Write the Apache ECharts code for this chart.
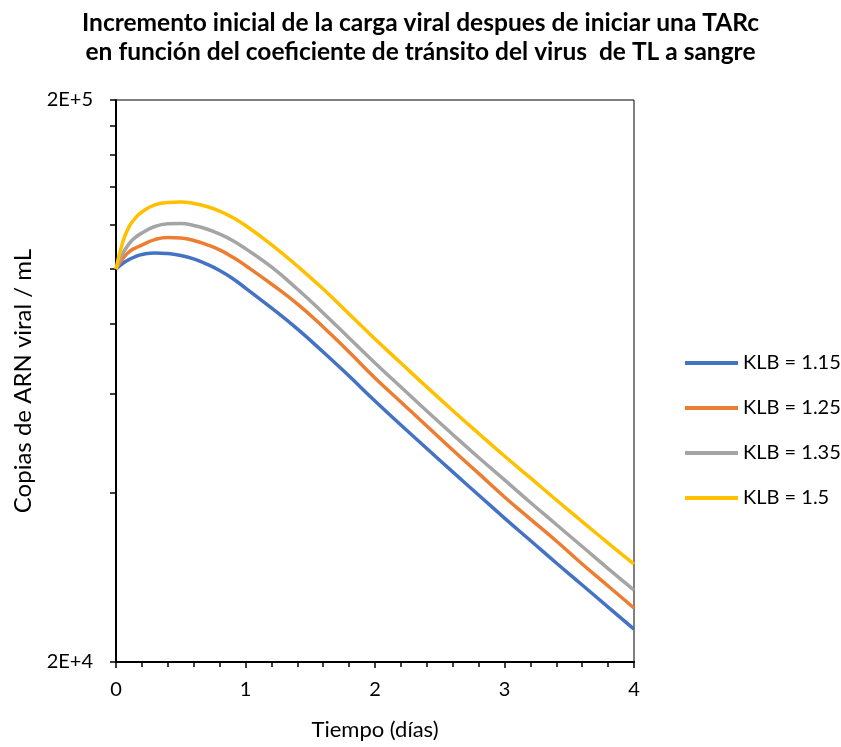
<!DOCTYPE html>
<html>
<head>
<meta charset="utf-8">
<script src="https://cdn.jsdelivr.net/npm/echarts@6/dist/echarts.min.js"></script>
<style>html,body{margin:0;padding:0;background:#fff}#c{width:841px;height:747px}</style>
</head>
<body>
<div id="c"></div>
<script>
const titleLines = ['Incremento inicial de la carga viral despues de iniciar una TARc',
                    'en función del coeficiente de tránsito del virus  de TL a sangre'];
const xName = 'Tiempo (días)';
const yName = 'Copias de ARN viral / mL';
const tiempo = [0, 0.05, 0.1, 0.15, 0.2, 0.3, 0.4, 0.5, 0.6, 0.7, 0.8, 0.9, 1.0, 1.2, 1.4, 1.6, 1.8, 2.0, 2.2, 2.4, 2.6, 2.8, 3.0, 3.2, 3.4, 3.6, 3.8, 4.0];
const seriesNames = ['KLB = 1.15', 'KLB = 1.25', 'KLB = 1.35', 'KLB = 1.5'];
const klb115 = [100000, 102300, 104000, 105300, 106200, 106900, 106600, 105800, 104300, 102100, 99460, 96260, 92570, 85320, 78280, 71220, 64540, 58260, 52820, 47970, 43580, 39650, 36070, 32900, 30000, 27420, 25050, 22890];
const klb125 = [100000, 104300, 107300, 109100, 110400, 112900, 113900, 113600, 112500, 110600, 108200, 105100, 101500, 94110, 86730, 78920, 71220, 64020, 58020, 52610, 47670, 43310, 39320, 35920, 32830, 29880, 27310, 24950];
const klb135 = [100000, 106400, 110900, 113900, 116000, 119100, 120400, 120600, 119600, 117900, 115500, 112500, 108800, 100900, 92190, 83590, 75430, 68080, 61700, 55920, 50800, 46230, 42170, 38450, 35130, 32100, 29330, 26860];
const klb150 = [100000, 111300, 118900, 123300, 126400, 130100, 131400, 131700, 130900, 129300, 126900, 123600, 119600, 110600, 101300, 92190, 83250, 75130, 68080, 61700, 56040, 51010, 46510, 42520, 38840, 35560, 32560, 29880];
const yLabelValues = [20000, 200000];
const yTickValues = [20000, 40000, 60000, 80000, 100000, 120000, 140000, 160000, 180000, 200000];
const colors = ['#4472C4', '#ED7D31', '#A5A5A5', '#FFC000'];

const allSeries = [klb115, klb125, klb135, klb150];
const font = 'Lato, "Open Sans", sans-serif';
const chart = echarts.init(document.getElementById('c'));
chart.setOption({
  animation: false,
  color: colors,
  textStyle: {fontFamily: font, color: '#000'},
  title: {
    text: titleLines.join('\n'),
    left: 'center', top: 4,
    textStyle: {fontFamily: font, fontWeight: 'bold', fontSize: 24.5, lineHeight: 29, color: '#000'}
  },
  grid: {left: 116, top: 100, width: 518, height: 562, show: true, borderColor: '#000', borderWidth: 1,
         backgroundColor: 'transparent', outerBoundsMode: 'none', containLabel: false},
  legend: {
    orient: 'vertical', left: 680, top: 347,
    itemWidth: 53, itemHeight: 4, itemGap: 23, icon: 'rect',
    textStyle: {fontFamily: font, fontSize: 20, lineHeight: 22, color: '#000'},
    data: seriesNames
  },
  xAxis: {
    type: 'value', min: 0, max: 4, interval: 1,
    name: xName, nameLocation: 'middle', nameGap: 57,
    nameTextStyle: {fontFamily: font, fontSize: 22, color: '#000'},
    axisLine: {lineStyle: {color: '#000', width: 2}},
    axisTick: {show: true, length: 6, lineStyle: {color: '#000', width: 1.5}},
    minorTick: {show: true, splitNumber: 5, length: 5, lineStyle: {color: '#000', width: 1.5}},
    axisLabel: {fontFamily: font, fontSize: 20, color: '#000', margin: 18},
    splitLine: {show: false}
  },
  yAxis: {
    type: 'log', logBase: 10, min: 20000, max: 200000,
    name: yName, nameLocation: 'middle', nameGap: 79, nameRotate: 90,
    nameTextStyle: {fontFamily: font, fontSize: 24, color: '#000'},
    axisLine: {show: true, lineStyle: {color: '#000', width: 2}},
    axisTick: {show: true, inside: false, length: 6, customValues: yTickValues, lineStyle: {color: '#000', width: 1.5}},
    axisLabel: {fontFamily: font, fontSize: 20, color: '#000', margin: 23, customValues: yLabelValues,
      formatter: v => { const e = Math.floor(Math.log10(v) + 1e-9); const m = Math.round(v / Math.pow(10, e)); return m + 'E+' + e; }},
    splitLine: {show: false}
  },
  series: allSeries.map((vals, i) => ({
    name: seriesNames[i], type: 'line', smooth: 0.5, showSymbol: false,
    lineStyle: {width: 3.5, color: colors[i]},
    data: tiempo.map((t, j) => [t, vals[j]])
  }))
});
</script>
</body>
</html>
